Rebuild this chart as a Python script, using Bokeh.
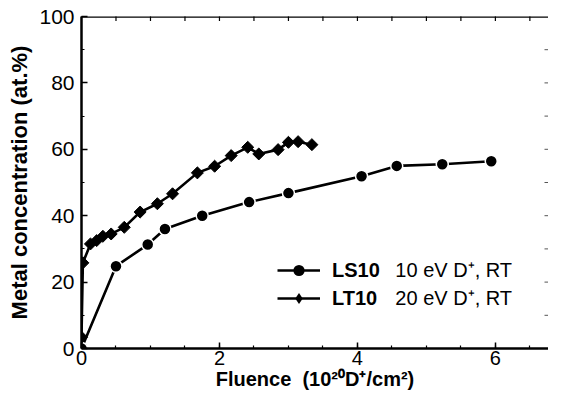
import math
import numpy as np
from bokeh.plotting import figure
from bokeh.models import (SingleIntervalTicker, Legend, LegendItem,
                          Label, Range1d, Span)
from bokeh.embed import file_html
from bokeh.resources import INLINE

# LS10: 10 eV D+, RT
ls10_fluence = [0.0, 0.50, 0.96, 1.21, 1.75, 2.43, 3.00, 4.06, 4.57, 5.23, 5.94]
ls10_conc = [0.0, 24.8, 31.3, 36.0, 40.0, 44.1, 46.8, 51.9, 55.0, 55.5, 56.4]

# LT10: 20 eV D+, RT
lt10_fluence = [0.0, 0.02, 0.13, 0.22, 0.31, 0.43, 0.62, 0.85, 1.10, 1.32, 1.68,
                1.93, 2.17, 2.41, 2.57, 2.85, 3.00, 3.14, 3.34]
lt10_conc = [3.4, 25.8, 31.5, 32.5, 33.8, 34.5, 36.5, 41.1, 43.6, 46.6, 52.9,
             54.9, 58.1, 60.6, 58.6, 59.9, 62.1, 62.3, 61.4]

series_names = ["LS10", "LT10"]
series_desc = ["10 eV D\u207a, RT", "20 eV D\u207a, RT"]
x_label = "Fluence\u00a0\u00a0(10\u00b2\u2070D\u207a/cm\u00b2)"
y_label = "Metal concentration (at.%)"

FONT = "Liberation Sans"
X_MAX = 6.77
Y_MAX = 100

p = figure(width=548, height=398, x_range=Range1d(0, X_MAX), y_range=Range1d(0, Y_MAX),
           output_backend="svg", toolbar_location=None,
           min_border_left=81, min_border_right=0, min_border_top=16,
           min_border_bottom=50, outline_line_color=None)
p.grid.visible = False
p.background_fill_color = "white"
p.border_fill_color = "white"

# bottom axis
xa = p.xaxis[0]
xa.ticker = SingleIntervalTicker(interval=2, num_minor_ticks=4)
xa.axis_line_width = 2.5
xa.axis_line_color = "black"
xa.major_tick_in = 6
xa.major_tick_out = 0
xa.minor_tick_in = 3
xa.minor_tick_out = 0
xa.major_tick_line_width = 1.5
xa.minor_tick_line_width = 1.2
xa.major_label_standoff = 2
xa.major_label_text_font = FONT
xa.major_label_text_font_size = "20px"
xa.major_label_text_color = "black"
xa.axis_label = x_label
xa.axis_label_text_font = FONT
xa.axis_label_text_font_style = "bold"
xa.axis_label_text_font_size = "20px"
xa.axis_label_text_color = "black"
xa.axis_label_standoff = 0

# left axis
ya = p.yaxis[0]
ya.ticker = SingleIntervalTicker(interval=20, num_minor_ticks=2)
ya.axis_line_width = 2.5
ya.axis_line_color = "black"
ya.major_tick_in = 6
ya.major_tick_out = 0
ya.minor_tick_in = 3
ya.minor_tick_out = 0
ya.major_tick_line_width = 1.5
ya.minor_tick_line_width = 1.2
ya.major_label_standoff = 7
ya.major_label_text_font = FONT
ya.major_label_text_font_size = "21px"
ya.major_label_text_color = "black"
ya.axis_label = y_label
ya.axis_label_text_font = FONT
ya.axis_label_text_font_style = "bold"
ya.axis_label_text_font_size = "22px"
ya.axis_label_text_color = "black"
ya.axis_label_standoff = 4

# top frame line and inward ticks along top and right edges
p.add_layout(Span(location=Y_MAX, dimension="width", line_color="black", line_width=2.5))
top_ticks = np.arange(0.5, X_MAX, 0.5)
p.scatter(top_ticks, [Y_MAX] * len(top_ticks), marker="dash", angle=math.pi / 2,
          size=9, line_color="black", line_width=1.2)
right_ticks = np.arange(10, Y_MAX, 10)
p.scatter([X_MAX] * len(right_ticks), right_ticks, marker="dash", size=8,
          line_color="#555555", line_width=1)

# data
l1 = p.line(ls10_fluence, ls10_conc, line_color="black", line_width=2.6)
s1 = p.scatter(ls10_fluence, ls10_conc, marker="circle", size=12,
               fill_color="black", line_color="white", line_width=1.5)
l2 = p.line(lt10_fluence, lt10_conc, line_color="black", line_width=2.6)
s2 = p.scatter(lt10_fluence, lt10_conc, marker="square", angle=math.pi / 4, size=8.5,
               fill_color="black", line_color="black", line_width=1)
# legend keys (legend draws markers unrotated, so the key uses a diamond marker)
s1_key = p.scatter(ls10_fluence, ls10_conc, marker="circle", size=0,
                   fill_color="black", line_color="black", line_width=0)
s2_key = p.scatter(lt10_fluence, lt10_conc, marker="diamond", size=0,
                   fill_color="black", line_color="black", line_width=0)

legend = Legend(items=[LegendItem(label=series_names[0], renderers=[l1, s1_key]),
                       LegendItem(label=series_names[1], renderers=[l2, s2_key])],
                location=(196, 36), orientation="vertical",
                glyph_width=43, glyph_height=28, label_standoff=12, spacing=0,
                padding=0, margin=0, border_line_color=None,
                background_fill_alpha=0,
                label_text_font=FONT, label_text_font_style="bold",
                label_text_font_size="20px", label_text_color="black")
p.add_layout(legend)

for desc, yv in zip(series_desc, [23.5, 15.1]):
    p.add_layout(Label(x=4.55, y=yv, text=desc, text_baseline="middle",
                       text_font=FONT, text_font_size="20px", text_color="black"))

open("out.html", "w").write(file_html(p, INLINE))
